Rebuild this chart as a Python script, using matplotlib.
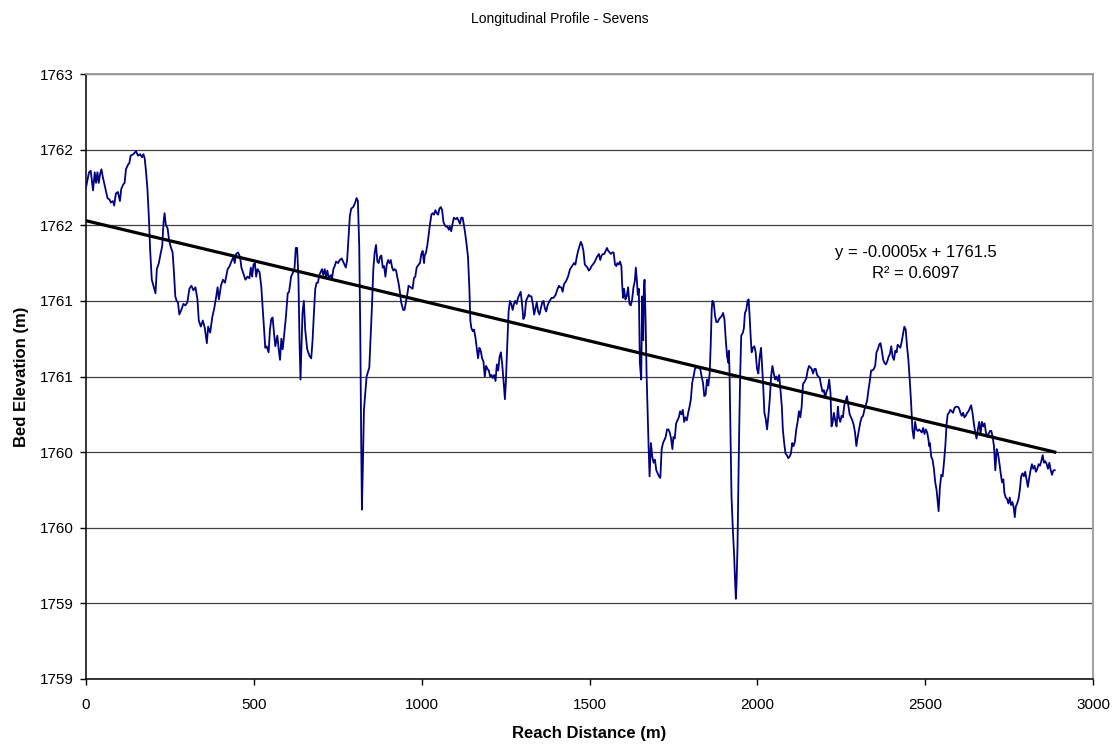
import numpy as np
import matplotlib
matplotlib.use('Agg')
import matplotlib.pyplot as plt

plt.rcParams['font.family'] = ['Liberation Sans', 'DejaVu Sans']

# reach distance (m) and bed elevation (m)
dist = [
    0, 9, 14, 21, 26, 30, 34, 38, 42, 46, 50, 56, 64, 70, 74, 80, 84, 89, 95, 101,
    105, 111, 115, 119, 125, 129, 133, 141, 149, 155, 161, 167, 171, 175, 179, 183, 188, 191, 196, 201,
    207, 211, 217, 223, 227, 231, 234, 238, 243, 247, 252, 258, 262, 266, 270, 274, 278, 284, 290, 296,
    302, 308, 314, 320, 326, 332, 336, 342, 348, 354, 360, 364, 370, 376, 382, 388, 392, 396, 402, 408,
    414, 422, 428, 433, 439, 443, 447, 453, 459, 463, 469, 475, 481, 487, 491, 495, 499, 503, 507, 511,
    517, 522, 526, 530, 534, 538, 544, 548, 552, 556, 560, 564, 570, 574, 578, 582, 586, 591, 595, 601,
    605, 611, 617, 621, 625, 629, 633, 636, 639, 642, 645, 649, 653, 659, 665, 671, 675, 679, 683, 687,
    691, 695, 699, 703, 707, 711, 715, 719, 723, 729, 733, 737, 741, 745, 751, 756, 762, 768, 774, 778,
    782, 786, 790, 796, 802, 806, 810, 814, 817, 820, 822, 825, 828, 832, 836, 840, 844, 848, 852, 856,
    860, 864, 868, 872, 876, 880, 884, 888, 892, 896, 900, 904, 908, 912, 916, 920, 924, 927, 931, 935,
    939, 945, 949, 953, 957, 961, 967, 973, 977, 981, 985, 991, 995, 999, 1003, 1007, 1009, 1013, 1017, 1021,
    1025, 1029, 1033, 1037, 1041, 1045, 1049, 1053, 1057, 1061, 1065, 1069, 1073, 1077, 1081, 1084, 1088, 1092, 1096, 1102,
    1106, 1110, 1114, 1118, 1122, 1126, 1130, 1134, 1138, 1142, 1145, 1148, 1152, 1156, 1160, 1164, 1168, 1172, 1176, 1180,
    1184, 1188, 1192, 1196, 1200, 1204, 1208, 1212, 1216, 1220, 1224, 1228, 1232, 1236, 1240, 1244, 1248, 1251, 1255, 1259,
    1263, 1267, 1271, 1275, 1279, 1283, 1287, 1291, 1295, 1299, 1303, 1307, 1311, 1315, 1319, 1323, 1327, 1331, 1335, 1339,
    1343, 1347, 1351, 1355, 1359, 1363, 1367, 1371, 1375, 1381, 1387, 1393, 1399, 1405, 1409, 1412, 1416, 1420, 1424, 1430,
    1436, 1442, 1448, 1454, 1458, 1462, 1466, 1470, 1474, 1478, 1482, 1486, 1490, 1494, 1498, 1502, 1506, 1510, 1516, 1522,
    1528, 1532, 1536, 1540, 1544, 1548, 1552, 1556, 1560, 1564, 1568, 1572, 1576, 1580, 1583, 1587, 1591, 1595, 1597, 1600,
    1603, 1607, 1611, 1615, 1619, 1623, 1627, 1631, 1635, 1638, 1641, 1644, 1647, 1650, 1654, 1657, 1660, 1662, 1664, 1667,
    1670, 1673, 1676, 1679, 1683, 1687, 1691, 1695, 1699, 1703, 1707, 1711, 1715, 1719, 1723, 1727, 1731, 1735, 1739, 1743,
    1747, 1750, 1754, 1758, 1762, 1766, 1770, 1774, 1778, 1782, 1786, 1790, 1794, 1798, 1802, 1806, 1810, 1814, 1818, 1824,
    1830, 1834, 1838, 1842, 1846, 1850, 1854, 1858, 1861, 1864, 1866, 1870, 1874, 1878, 1882, 1886, 1890, 1894, 1898, 1902,
    1906, 1910, 1914, 1915, 1917, 1920, 1923, 1927, 1931, 1934, 1936, 1938, 1941, 1943, 1946, 1949, 1952, 1957, 1960, 1963,
    1967, 1971, 1974, 1977, 1980, 1983, 1987, 1991, 1995, 1999, 2003, 2007, 2011, 2017, 2021, 2025, 2029, 2033, 2037, 2041,
    2045, 2049, 2053, 2057, 2061, 2065, 2069, 2073, 2076, 2080, 2084, 2088, 2092, 2096, 2100, 2104, 2108, 2112, 2116, 2120,
    2124, 2128, 2132, 2136, 2142, 2146, 2150, 2154, 2158, 2162, 2166, 2170, 2174, 2178, 2182, 2186, 2190, 2194, 2198, 2202,
    2206, 2210, 2214, 2218, 2221, 2224, 2228, 2232, 2236, 2240, 2243, 2247, 2251, 2255, 2259, 2263, 2267, 2271, 2275, 2279,
    2283, 2287, 2291, 2295, 2299, 2303, 2307, 2311, 2315, 2319, 2323, 2327, 2331, 2335, 2339, 2343, 2347, 2351, 2355, 2359,
    2363, 2367, 2371, 2375, 2379, 2383, 2387, 2391, 2395, 2399, 2403, 2407, 2411, 2415, 2418, 2422, 2426, 2430, 2434, 2438,
    2442, 2446, 2450, 2454, 2458, 2462, 2466, 2470, 2474, 2478, 2482, 2486, 2490, 2494, 2498, 2502, 2506, 2510, 2512, 2514,
    2518, 2522, 2526, 2530, 2534, 2538, 2540, 2544, 2548, 2552, 2556, 2560, 2564, 2567, 2571, 2575, 2579, 2583, 2587, 2591,
    2597, 2601, 2605, 2609, 2613, 2617, 2621, 2625, 2629, 2633, 2637, 2641, 2645, 2649, 2653, 2657, 2661, 2665, 2669, 2673,
    2677, 2681, 2685, 2689, 2693, 2697, 2701, 2705, 2709, 2713, 2717, 2721, 2725, 2729, 2733, 2736, 2740, 2744, 2748, 2752,
    2756, 2760, 2764, 2767, 2770, 2774, 2778, 2782, 2786, 2790, 2794, 2798, 2802, 2806, 2810, 2814, 2818, 2822, 2826, 2830,
    2834, 2838, 2842, 2846, 2850, 2854, 2858, 2862, 2866, 2870, 2874, 2878, 2882, 2886,
]
elev = [
    1761.75, 1761.85, 1761.86, 1761.73, 1761.85, 1761.78, 1761.85, 1761.78, 1761.84, 1761.87, 1761.82, 1761.76, 1761.68, 1761.67, 1761.65, 1761.66, 1761.63, 1761.71, 1761.72, 1761.66,
    1761.74, 1761.77, 1761.78, 1761.87, 1761.90, 1761.91, 1761.96, 1761.97, 1761.99, 1761.96, 1761.97, 1761.95, 1761.97, 1761.94, 1761.85, 1761.74, 1761.52, 1761.34, 1761.14, 1761.10,
    1761.05, 1761.21, 1761.25, 1761.32, 1761.36, 1761.52, 1761.58, 1761.50, 1761.48, 1761.41, 1761.36, 1761.32, 1761.19, 1761.03, 1761.00, 1760.99, 1760.91, 1760.94, 1760.98, 1760.97,
    1760.99, 1761.08, 1761.10, 1761.07, 1761.09, 1761.01, 1760.87, 1760.83, 1760.87, 1760.82, 1760.72, 1760.83, 1760.79, 1760.89, 1760.95, 1761.03, 1761.09, 1761.01, 1761.10, 1761.14,
    1761.12, 1761.21, 1761.23, 1761.26, 1761.29, 1761.25, 1761.31, 1761.32, 1761.29, 1761.22, 1761.18, 1761.14, 1761.16, 1761.15, 1761.22, 1761.16, 1761.24, 1761.25, 1761.16, 1761.21,
    1761.19, 1761.10, 1760.97, 1760.83, 1760.69, 1760.70, 1760.66, 1760.81, 1760.88, 1760.89, 1760.79, 1760.70, 1760.77, 1760.68, 1760.61, 1760.75, 1760.68, 1760.79, 1760.88, 1761.05,
    1761.06, 1761.16, 1761.19, 1761.21, 1761.35, 1761.35, 1761.14, 1760.74, 1760.48, 1760.70, 1760.92, 1761.00, 1760.81, 1760.68, 1760.64, 1760.62, 1760.74, 1760.92, 1761.08, 1761.12,
    1761.12, 1761.17, 1761.19, 1761.21, 1761.17, 1761.21, 1761.16, 1761.20, 1761.15, 1761.17, 1761.15, 1761.21, 1761.23, 1761.26, 1761.25, 1761.27, 1761.28, 1761.25, 1761.22, 1761.27,
    1761.41, 1761.56, 1761.61, 1761.62, 1761.65, 1761.68, 1761.66, 1761.36, 1760.81, 1760.04, 1759.62, 1759.93, 1760.28, 1760.39, 1760.50, 1760.53, 1760.56, 1760.77, 1760.97, 1761.21,
    1761.32, 1761.37, 1761.26, 1761.25, 1761.29, 1761.30, 1761.22, 1761.23, 1761.16, 1761.24, 1761.27, 1761.25, 1761.27, 1761.22, 1761.20, 1761.21, 1761.20, 1761.16, 1761.12, 1761.06,
    1760.99, 1760.94, 1760.94, 1760.99, 1761.04, 1761.10, 1761.09, 1761.08, 1761.15, 1761.16, 1761.22, 1761.24, 1761.25, 1761.31, 1761.33, 1761.25, 1761.30, 1761.32, 1761.37, 1761.44,
    1761.51, 1761.57, 1761.58, 1761.57, 1761.60, 1761.58, 1761.57, 1761.61, 1761.62, 1761.60, 1761.52, 1761.50, 1761.49, 1761.49, 1761.47, 1761.49, 1761.46, 1761.51, 1761.55, 1761.54,
    1761.55, 1761.53, 1761.51, 1761.55, 1761.55, 1761.50, 1761.44, 1761.37, 1761.29, 1761.09, 1760.87, 1760.82, 1760.80, 1760.81, 1760.76, 1760.69, 1760.62, 1760.69, 1760.67, 1760.62,
    1760.60, 1760.50, 1760.57, 1760.55, 1760.54, 1760.50, 1760.51, 1760.49, 1760.51, 1760.47, 1760.58, 1760.54, 1760.63, 1760.66, 1760.58, 1760.47, 1760.35, 1760.47, 1760.71, 1760.93,
    1761.00, 1760.98, 1760.94, 1760.98, 1761.00, 1760.98, 1761.02, 1761.04, 1761.06, 1760.98, 1760.88, 1760.90, 1761.00, 1761.02, 1761.04, 1761.03, 1761.03, 1760.98, 1760.91, 1760.95,
    1760.99, 1760.93, 1760.91, 1760.95, 1760.99, 1761.00, 1760.95, 1760.93, 1760.97, 1761.00, 1761.02, 1761.02, 1761.04, 1761.08, 1761.10, 1761.09, 1761.09, 1761.06, 1761.11, 1761.13,
    1761.16, 1761.21, 1761.23, 1761.25, 1761.24, 1761.29, 1761.33, 1761.36, 1761.39, 1761.37, 1761.33, 1761.24, 1761.23, 1761.22, 1761.20, 1761.21, 1761.23, 1761.24, 1761.26, 1761.29,
    1761.31, 1761.27, 1761.30, 1761.31, 1761.31, 1761.33, 1761.35, 1761.33, 1761.32, 1761.31, 1761.32, 1761.32, 1761.24, 1761.23, 1761.25, 1761.24, 1761.26, 1761.23, 1761.12, 1761.02,
    1761.08, 1761.01, 1761.03, 1761.09, 1760.98, 1760.97, 1761.01, 1761.09, 1761.13, 1761.22, 1761.14, 1761.04, 1761.08, 1760.59, 1760.48, 1761.03, 1760.74, 1761.08, 1761.14, 1760.88,
    1760.52, 1760.28, 1760.04, 1759.84, 1760.06, 1759.97, 1759.93, 1759.95, 1759.88, 1759.86, 1759.84, 1759.83, 1760.02, 1760.06, 1760.08, 1760.10, 1760.15, 1760.15, 1760.13, 1760.09,
    1760.02, 1760.10, 1760.09, 1760.19, 1760.21, 1760.23, 1760.27, 1760.25, 1760.28, 1760.20, 1760.23, 1760.21, 1760.26, 1760.30, 1760.35, 1760.46, 1760.50, 1760.55, 1760.56, 1760.56,
    1760.55, 1760.50, 1760.46, 1760.37, 1760.38, 1760.48, 1760.44, 1760.52, 1760.70, 1760.94, 1761.00, 1760.99, 1760.90, 1760.86, 1760.86, 1760.88, 1760.89, 1760.90, 1760.92, 1760.88,
    1760.74, 1760.63, 1760.59, 1760.67, 1760.55, 1760.15, 1759.71, 1759.49, 1759.31, 1759.13, 1759.03, 1759.13, 1759.38, 1759.71, 1760.15, 1760.52, 1760.77, 1760.79, 1760.82, 1760.92,
    1760.94, 1761.00, 1761.01, 1760.90, 1760.77, 1760.66, 1760.69, 1760.70, 1760.66, 1760.55, 1760.52, 1760.63, 1760.69, 1760.46, 1760.26, 1760.22, 1760.15, 1760.24, 1760.35, 1760.50,
    1760.57, 1760.52, 1760.48, 1760.50, 1760.47, 1760.51, 1760.41, 1760.30, 1760.15, 1760.06, 1759.99, 1759.98, 1759.96, 1759.97, 1759.99, 1760.06, 1760.04, 1760.07, 1760.15, 1760.20,
    1760.27, 1760.23, 1760.30, 1760.45, 1760.47, 1760.49, 1760.54, 1760.57, 1760.56, 1760.55, 1760.52, 1760.55, 1760.55, 1760.51, 1760.50, 1760.49, 1760.44, 1760.40, 1760.41, 1760.36,
    1760.40, 1760.42, 1760.48, 1760.39, 1760.17, 1760.19, 1760.26, 1760.21, 1760.17, 1760.30, 1760.23, 1760.20, 1760.24, 1760.23, 1760.31, 1760.34, 1760.37, 1760.31, 1760.25, 1760.23,
    1760.21, 1760.18, 1760.13, 1760.04, 1760.10, 1760.15, 1760.20, 1760.23, 1760.24, 1760.28, 1760.31, 1760.34, 1760.41, 1760.47, 1760.54, 1760.54, 1760.55, 1760.57, 1760.66, 1760.68,
    1760.71, 1760.72, 1760.67, 1760.61, 1760.59, 1760.58, 1760.60, 1760.63, 1760.65, 1760.70, 1760.63, 1760.61, 1760.67, 1760.66, 1760.71, 1760.70, 1760.69, 1760.73, 1760.78, 1760.83,
    1760.81, 1760.70, 1760.61, 1760.48, 1760.33, 1760.15, 1760.09, 1760.20, 1760.15, 1760.14, 1760.15, 1760.14, 1760.13, 1760.16, 1760.12, 1760.15, 1760.13, 1760.08, 1760.04, 1760.06,
    1759.97, 1759.95, 1759.89, 1759.80, 1759.75, 1759.66, 1759.61, 1759.77, 1759.85, 1759.84, 1759.93, 1760.04, 1760.19, 1760.25, 1760.26, 1760.28, 1760.27, 1760.26, 1760.29, 1760.30,
    1760.30, 1760.29, 1760.26, 1760.24, 1760.26, 1760.23, 1760.24, 1760.26, 1760.27, 1760.29, 1760.31, 1760.26, 1760.19, 1760.13, 1760.09, 1760.15, 1760.20, 1760.12, 1760.20, 1760.17,
    1760.19, 1760.13, 1760.10, 1760.12, 1760.14, 1760.14, 1760.10, 1760.04, 1759.88, 1760.02, 1759.99, 1759.93, 1759.86, 1759.80, 1759.82, 1759.73, 1759.70, 1759.69, 1759.66, 1759.70,
    1759.65, 1759.67, 1759.63, 1759.57, 1759.64, 1759.66, 1759.69, 1759.75, 1759.84, 1759.86, 1759.84, 1759.87, 1759.82, 1759.77, 1759.83, 1759.88, 1759.92, 1759.89, 1759.91, 1759.87,
    1759.89, 1759.92, 1759.91, 1759.94, 1759.98, 1759.93, 1759.94, 1759.92, 1759.89, 1759.93, 1759.88, 1759.85, 1759.88, 1759.88,
]

# linear trendline as printed by the spreadsheet (unrounded coefficients)
trend_slope = -0.00053
trend_intercept = 1761.53
trend_text = 'y = -0.0005x + 1761.5\nR² = 0.6097'

x_ticks = [0, 500, 1000, 1500, 2000, 2500, 3000]
y_ticks = [1758.5, 1759.0, 1759.5, 1760.0, 1760.5, 1761.0, 1761.5, 1762.0, 1762.5]
y_tick_labels = ['1759', '1759', '1760', '1760', '1761', '1761', '1762', '1762', '1763']

dist = np.array(dist)
elev = np.array(elev)

fig = plt.figure(figsize=(11.19, 7.46), dpi=100)
ax = fig.add_axes([86 / 1119, 67 / 746, 1007 / 1119, 605 / 746])

ax.plot(dist, elev, color='#000080', lw=1.3, zorder=3)

tx = np.array([0, dist.max()])
ax.plot(tx, trend_slope * tx + trend_intercept, color='black', lw=2.3, zorder=4)

ax.text(2472, 1761.25, trend_text, ha='center', va='center', fontsize=12,
        linespacing=1.55)

ax.set_xlim(0, 3000)
ax.set_ylim(1758.5, 1762.5)
ax.set_xticks(x_ticks)
ax.set_yticks(y_ticks)
ax.set_yticklabels(y_tick_labels)
ax.tick_params(direction='out', length=4, width=1, labelsize=11, color='black')
ax.tick_params(axis='x', pad=10)
ax.tick_params(axis='y', pad=5)
ax.yaxis.grid(True, color='#404040', lw=0.9)
ax.set_axisbelow(True)

for side in ['left', 'bottom']:
    ax.spines[side].set_color('black')
    ax.spines[side].set_linewidth(1.1)
for side in ['top', 'right']:
    ax.spines[side].set_color('#999999')
    ax.spines[side].set_linewidth(1.3)

ax.set_xlabel('Reach Distance (m)', fontsize=12, fontweight='bold', labelpad=9.5)
ax.set_ylabel('Bed Elevation (m)', fontsize=12, fontweight='bold', labelpad=8)
fig.suptitle('Longitudinal Profile - Sevens', fontsize=10, y=0.984)

fig.savefig('out.png', dpi=100)
